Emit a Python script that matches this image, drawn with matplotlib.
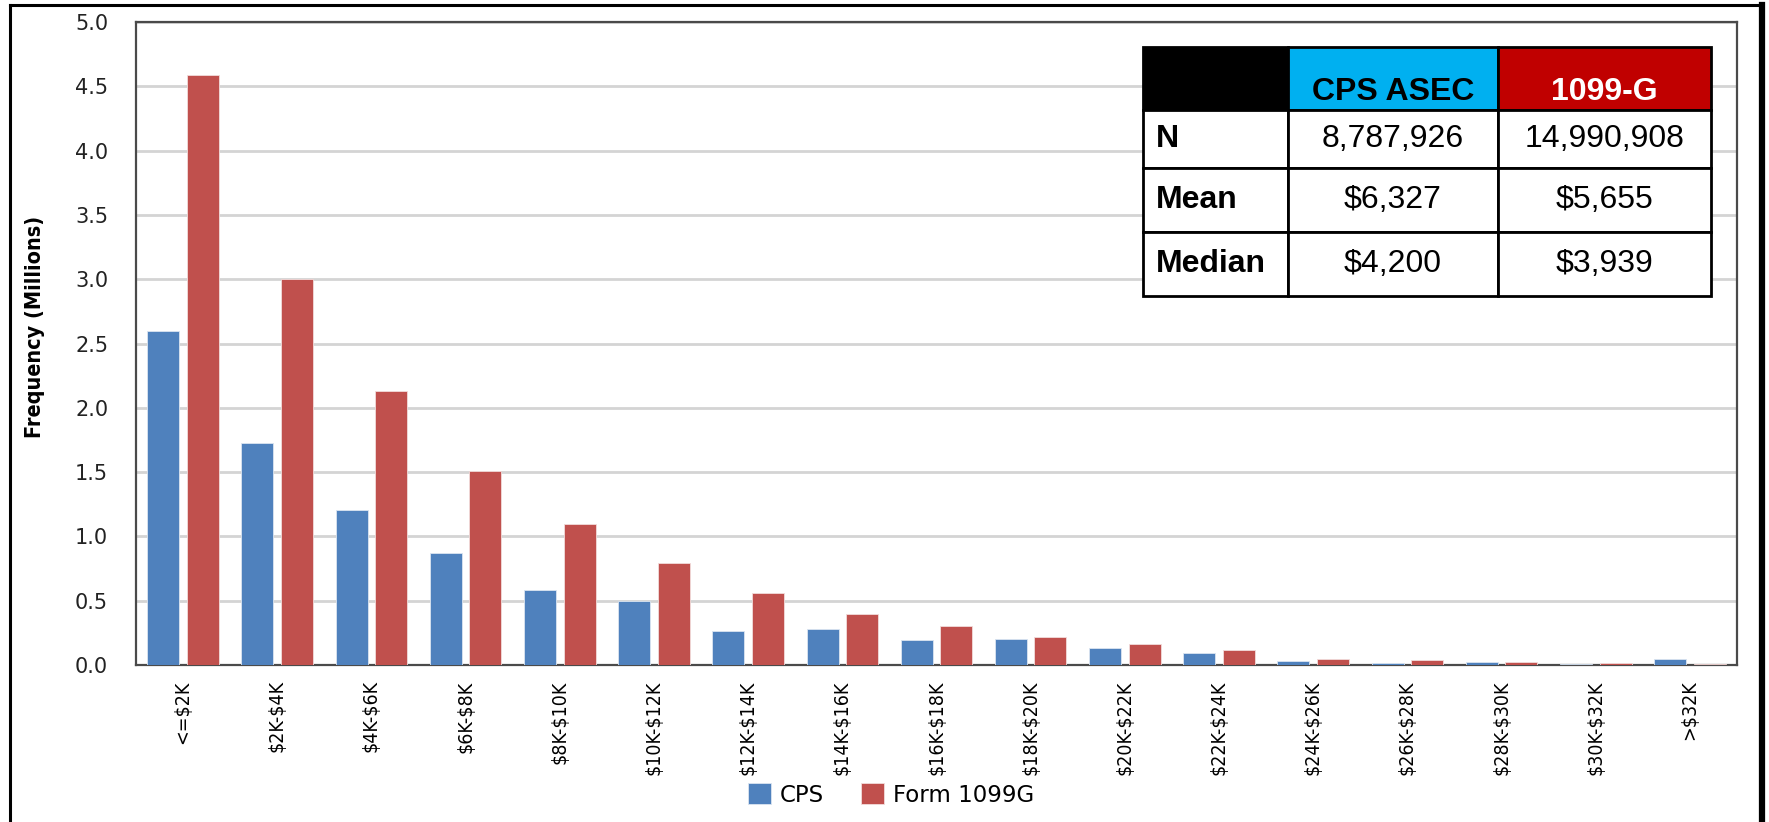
import matplotlib
matplotlib.use("Agg")
import matplotlib.pyplot as plt
import numpy as np
from matplotlib.lines import Line2D
from matplotlib.patches import Rectangle
from matplotlib.font_manager import FontProperties

# income bins and frequencies (millions)
bins = ["<=$2K", "$2K-$4K", "$4K-$6K", "$6K-$8K", "$8K-$10K", "$10K-$12K",
        "$12K-$14K", "$14K-$16K", "$16K-$18K", "$18K-$20K", "$20K-$22K",
        "$22K-$24K", "$24K-$26K", "$26K-$28K", "$28K-$30K", "$30K-$32K", ">$32K"]
cps = [2.60, 1.73, 1.205, 0.87, 0.585, 0.50, 0.265, 0.28, 0.195, 0.205,
       0.13, 0.09, 0.032, 0.016, 0.023, 0.01, 0.047]
form_1099g = [4.59, 3.00, 2.13, 1.51, 1.095, 0.79, 0.56, 0.40, 0.30, 0.215,
              0.165, 0.114, 0.047, 0.037, 0.02, 0.015, 0.01]

# summary stats table
stat_cols = ["CPS ASEC", "1099-G"]
stat_rows = ["N", "Mean", "Median"]
cps_stats = ["8,787,926", "$6,327", "$4,200"]
g_stats = ["14,990,908", "$5,655", "$3,939"]

plt.rcParams["text.parse_math"] = False

narrow = FontProperties(family="DejaVu Sans", stretch="condensed", size=14)

W, H = 1769, 822
fig = plt.figure(figsize=(W / 100, H / 100), dpi=100)
ax = fig.add_axes([136 / W, 1 - 665 / H, (1737 - 136) / W, (665 - 22) / H])

x = np.arange(len(bins))
ax.bar(x - 0.21, cps, width=0.34, color="#4F81BD", edgecolor="#dbe5f1",
       linewidth=0.6, label="CPS", zorder=3)
ax.bar(x + 0.21, form_1099g, width=0.34, color="#C0504D", edgecolor="#f2dcdb",
       linewidth=0.6, label="Form 1099G", zorder=3)

ax.set_xlim(-0.5, len(bins) - 0.5)
ax.set_ylim(0, 5.0)
yt = np.arange(0, 5.01, 0.5)
ax.set_yticks(yt)
ax.set_yticklabels([f"{v:.1f}" for v in yt], fontsize=15,
                   family="DejaVu Sans", color="#222222")
ax.set_xticks(x)
ax.set_xticklabels(bins, rotation=90, fontproperties=narrow, va="top")
ax.tick_params(axis="y", length=0, pad=20)
ax.tick_params(axis="x", length=0, pad=11)
ax.grid(axis="y", color="#d4d4d4", linewidth=2, zorder=0)
for s in ax.spines.values():
    s.set_color("#4a4a4a")
    s.set_linewidth(1.6)

fig.text(35 / W, 1 - 327 / H, "Frequency (Millions)", rotation=90,
         ha="center", va="center", fontweight="bold", family="DejaVu Sans",
         fontstretch="condensed", fontsize=15.5)

fig.legend(loc="center", bbox_to_anchor=(891 / W, 1 - 795 / H), ncol=2,
           frameon=False, handlelength=1.0, handleheight=1.0,
           handletextpad=0.4, columnspacing=1.6,
           prop={"family": "DejaVu Sans", "size": 16.5})

# stats table drawn in its own axes
tax = fig.add_axes([1143 / W, 1 - 296 / H, (1711 - 1143) / W, (296 - 47) / H])
tax.set_xlim(0, 1)
tax.set_ylim(0, 1)
tax.axis("off")
col_edges = np.array([1143, 1288, 1498, 1711])
col_edges = (col_edges - col_edges[0]) / (col_edges[-1] - col_edges[0])
row_edges = np.array([296, 232, 168, 110, 47])
row_edges = (row_edges[0] - row_edges) / (row_edges[0] - row_edges[-1])

hdr_colors = ["#000000", "#00B0F0", "#C00000"]
hdr_text = ["black", "white"]
y0, y1 = row_edges[3], row_edges[4]
for j in range(3):
    tax.add_patch(Rectangle((col_edges[j], y0), col_edges[j + 1] - col_edges[j],
                            y1 - y0, facecolor=hdr_colors[j], edgecolor="black",
                            linewidth=2, clip_on=False))
for j, name in enumerate(stat_cols):
    cx = (col_edges[j + 1] + col_edges[j + 2]) / 2
    tax.text(cx, y0 + (y1 - y0) * 0.28, name, ha="center", va="center",
             fontsize=23, fontweight="bold", color=hdr_text[j],
             family="Liberation Sans")

for i, (name, a, b) in enumerate(zip(stat_rows, cps_stats, g_stats)):
    top = row_edges[3 - i]
    bot = row_edges[2 - i]
    for j in range(3):
        tax.add_patch(Rectangle((col_edges[j], bot), col_edges[j + 1] - col_edges[j],
                                top - bot, facecolor="white", edgecolor="black",
                                linewidth=2, clip_on=False))
    cy = (top + bot) / 2
    tax.text(col_edges[0] + 0.022, cy, name, ha="left", va="center",
             fontsize=23, fontweight="bold", family="Liberation Sans")
    tax.text((col_edges[1] + col_edges[2]) / 2, cy, a, ha="center", va="center",
             fontsize=23, family="Liberation Sans")
    tax.text((col_edges[2] + col_edges[3]) / 2, cy, b, ha="center", va="center",
             fontsize=23, family="Liberation Sans")

# outer frame
fx0, fx1, fy1 = 10 / W, 1762 / W, 1 - 5 / H
fig.add_artist(Line2D([fx0, fx0], [-0.01, fy1], color="black", linewidth=2.2))
fig.add_artist(Line2D([fx0, fx1], [fy1, fy1], color="black", linewidth=2.2))
fig.add_artist(Line2D([fx1, fx1], [-0.01, fy1], color="black", linewidth=4.5))

fig.savefig("out.png", dpi=100)
